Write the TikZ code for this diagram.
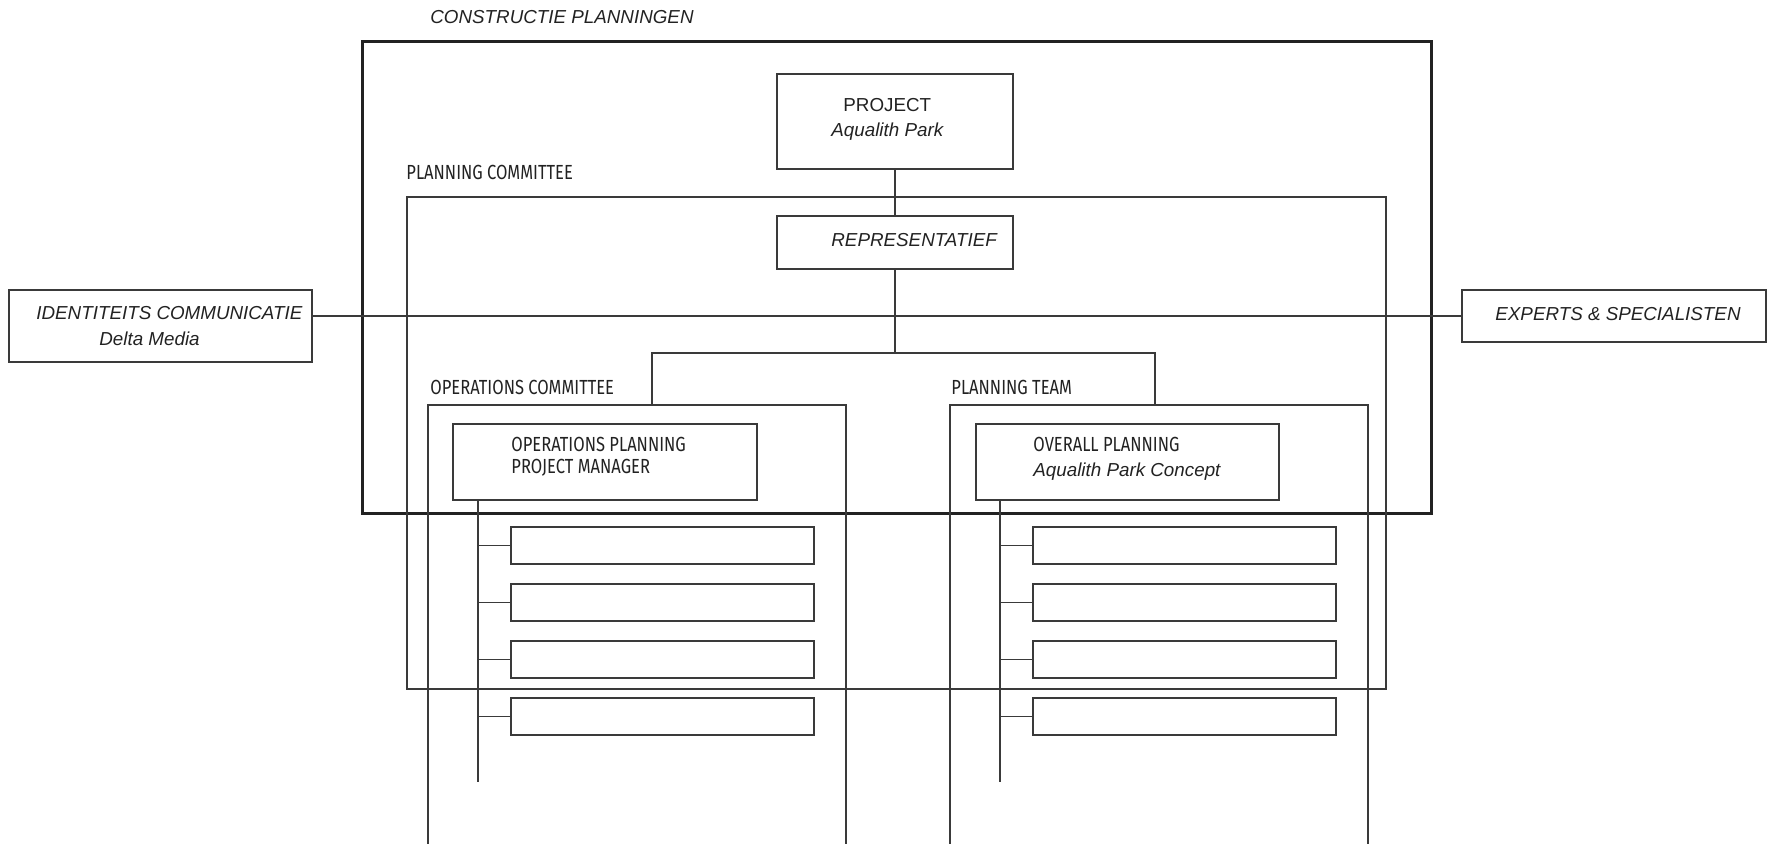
\documentclass[tikz,border=0pt]{standalone}
\usepackage{fontspec}
\setmainfont{Liberation Sans}
\newfontfamily\dinfont[FakeStretch=0.81]{Fira Sans}
\definecolor{lc}{HTML}{3A3A3A}
\definecolor{tc}{HTML}{222222}
\tikzset{
  box/.style={draw=lc, line width=0.6pt, inner sep=0pt, outer sep=0pt, anchor=north west},
  bigbox/.style={draw=tc, line width=1.5pt, inner sep=0pt, outer sep=0pt, anchor=north west},
  conn/.style={draw=lc, line width=0.6pt},
  itxt/.style={anchor=mid west, inner sep=0pt, text=tc, font=\fontsize{9.4}{11}\selectfont\itshape},
  utxt/.style={anchor=mid west, inner sep=0pt, text=tc, font=\fontsize{9.4}{11}\selectfont},
  dtxt/.style={anchor=mid west, inner sep=0pt, text=tc, font=\dinfont\fontsize{10.2}{11}\selectfont},
  subbox/.style={box, minimum width=151.5pt, minimum height=18.5pt}
}
\begin{document}
\begin{tikzpicture}[x=0.5pt, y=-0.5pt]
\useasboundingbox (0,0) rectangle (1769,843);
% frames
\node[bigbox, minimum width=534.5pt, minimum height=236pt] (cp) at (362,41) {};
\node[box, minimum width=489.5pt, minimum height=246pt] (pc) at (407,197) {};
\node[box, minimum width=209pt, minimum height=300pt] (opc) at (428,405) {};
\node[box, minimum width=209pt, minimum height=300pt] (ptm) at (950,405) {};
% labels of frames
\node[itxt] (cpl) at (430,18) {CONSTRUCTIE PLANNINGEN};
\node[dtxt] (pcl) at (406,174) {PLANNING COMMITTEE};
\node[dtxt] (opcl) at (430,389) {OPERATIONS COMMITTEE};
\node[dtxt] (ptml) at (951,389) {PLANNING TEAM};
% main boxes
\node[box, minimum width=118pt, minimum height=47.5pt] (proj) at (777,74) {};
\node[utxt] (projt) at (843,106) {PROJECT};
\node[itxt] (projs) at (831,131) {Aqualith Park};
\node[box, minimum width=118pt, minimum height=26.5pt] (rep) at (777,216) {};
\node[itxt] (rept) at (831,241) {REPRESENTATIEF};
\node[box, minimum width=151.5pt, minimum height=36pt] (ident) at (9,290) {};
\node[itxt] (identt) at (36,314) {IDENTITEITS COMMUNICATIE};
\node[itxt] (idents) at (99,340) {Delta Media};
\node[box, minimum width=152pt, minimum height=26pt] (exp) at (1462,290) {};
\node[itxt] (expt) at (1495,315) {EXPERTS \& SPECIALISTEN};
\node[box, minimum width=152pt, minimum height=38pt] (opm) at (453,424) {};
\node[dtxt] (opmt) at (511,446) {OPERATIONS PLANNING};
\node[dtxt] (opms) at (511,468) {PROJECT MANAGER};
\node[box, minimum width=151.5pt, minimum height=38pt] (ovp) at (976,424) {};
\node[dtxt] (ovpt) at (1033,446) {OVERALL PLANNING};
\node[itxt] (ovps) at (1033,471) {Aqualith Park Concept};
% sub boxes
\node[subbox] (l1) at (511,527) {};
\node[subbox] (l2) at (511,584) {};
\node[subbox] (l3) at (511,641) {};
\node[subbox] (l4) at (511,698) {};
\node[subbox] (r1) at (1033,527) {};
\node[subbox] (r2) at (1033,584) {};
\node[subbox] (r3) at (1033,641) {};
\node[subbox] (r4) at (1033,698) {};
% connectors
\coordinate (jl) at (652,353);
\coordinate (jr) at (1155,353);
\coordinate (tl) at (478,782);
\coordinate (tr) at (1000,782);
\draw[conn] (proj.south) -- (rep.north);
\draw[conn] (exp.west -| ident.east) -- (exp.west);
\draw[conn] (rep.south) -- (rep.south |- jl);
\draw[conn] (jl |- opc.north) -- (jl) -- (jr) -- (jr |- ptm.north);
\draw[conn] (tl |- opm.south) -- (tl);
\draw[conn] (tr |- ovp.south) -- (tr);
\foreach \n in {l1,l2,l3,l4} \draw[conn] (\n.west) -- (\n.west -| tl);
\foreach \n in {r1,r2,r3,r4} \draw[conn] (\n.west) -- (\n.west -| tr);
\end{tikzpicture}
\end{document}
